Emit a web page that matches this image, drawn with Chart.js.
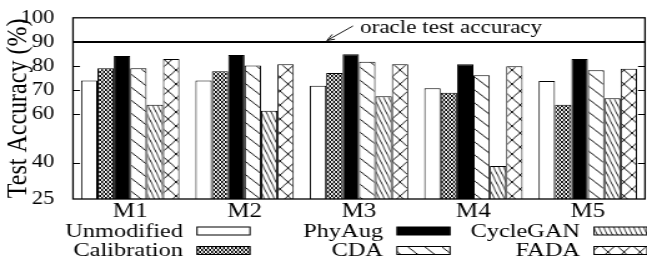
<!DOCTYPE html>
<html>
<head>
<meta charset="utf-8">
<script src="https://cdn.jsdelivr.net/npm/chart.js@4.4.0/dist/chart.umd.min.js"></script>
<style>
  html, body { margin: 0; padding: 0; background: #fff; }
  #chart { display: block; }
</style>
</head>
<body>
<canvas id="chart" width="518" height="262" style="width:647px;height:262px"></canvas>
<script>
const models = ["M1", "M2", "M3", "M4", "M5"];
const unmodified = [74, 74, 71.9, 70.8, 73.8];
const calibration = [79.1, 77.9, 77.2, 69, 64];
const phyAug = [84.2, 84.6, 84.9, 80.8, 82.9];
const cda = [79.1, 80.3, 81.8, 76.2, 78.3];
const cycleGan = [64, 61.5, 67.5, 38.7, 66.7];
const fada = [82.9, 80.8, 80.8, 79.9, 78.9];
const yTicks = [25, 40, 60, 70, 80, 90, 100];
const oracleAccuracy = 90;
const oracleLabel = "oracle test accuracy";

// the original figure is wider than its fonts; draw narrow and stretch
const STRETCH = 647 / 518;
const FONT = "'Liberation Serif', 'Times New Roman', serif";

const canvas = document.getElementById("chart");
const ctx = canvas.getContext("2d");

// Build a hatch pattern drawn in screen pixels (undoes the stretch).
const makePattern = (w, h, draw) => {
  const tile = document.createElement("canvas");
  tile.width = w;
  tile.height = h;
  const c = tile.getContext("2d");
  c.fillStyle = "#fff";
  c.fillRect(0, 0, w, h);
  c.strokeStyle = "#000";
  c.lineWidth = 1;
  draw(c, w, h);
  const pattern = ctx.createPattern(tile, "repeat");
  pattern.setTransform(new DOMMatrix([1 / STRETCH, 0, 0, 1, 0, 0]));
  return pattern;
};

// "\" line (down-right) or "/" line, wrapped so the tile repeats cleanly.
const hatch = (c, w, h, down) => {
  for (let k = -1; k <= 1; k++) {
    c.beginPath();
    if (down) {
      c.moveTo(k * w, 0);
      c.lineTo(k * w + w, h);
    } else {
      c.moveTo(k * w + w, 0);
      c.lineTo(k * w, h);
    }
    c.stroke();
  }
};

const fills = {
  unmodified: "#fff",
  calibration: makePattern(4, 4, (c, w, h) => { hatch(c, w, h, true); hatch(c, w, h, false); }),
  phyAug: "#000",
  cda: makePattern(17, 13, (c, w, h) => hatch(c, w, h, true)),
  cycleGan: makePattern(5, 10, (c, w, h) => hatch(c, w, h, true)),
  fada: makePattern(16, 14, (c, w, h) => { hatch(c, w, h, true); hatch(c, w, h, false); }),
};

const barSet = (label, data, fill) => ({
  label,
  data,
  backgroundColor: fill,
  borderColor: "#000",
  borderWidth: 1,
  categoryPercentage: 0.86,
  barPercentage: 1,
});

// Legend: 3 columns x 2 rows, text right-aligned in front of the sample box.
const legendCols = [183, 383, 580];
const legendRows = [{ box: 227, base: 236.5 }, { box: 246.5, base: 256 }];

const figurePlugin = {
  id: "figure",
  afterDatasetsDraw(chart) {
    const { ctx: g, chartArea: a, scales } = chart;
    const yScale = scales.y;
    g.save();
    g.strokeStyle = "#000";
    g.fillStyle = "#000";

    // inward tick marks on both sides
    g.lineWidth = 1;
    const tl = 7 / STRETCH;
    yTicks.slice(1, -1).forEach((v) => {
      const y = Math.round(yScale.getPixelForValue(v)) + 0.5;
      g.beginPath();
      g.moveTo(a.left, y);
      g.lineTo(a.left + tl, y);
      g.moveTo(a.right, y);
      g.lineTo(a.right - tl, y);
      g.stroke();
    });

    // oracle line
    const oy = yScale.getPixelForValue(oracleAccuracy);
    g.lineWidth = 2;
    g.beginPath();
    g.moveTo(a.left, oy);
    g.lineTo(a.right, oy);
    g.stroke();

    // frame
    g.lineWidth = 1.3;
    g.strokeRect(a.left, a.top, a.right - a.left, a.bottom - a.top);

    // oracle label and arrow
    g.font = `18.5px ${FONT}`;
    g.textAlign = "left";
    g.textBaseline = "alphabetic";
    g.fillText(oracleLabel, 360 / STRETCH, oy - 8.5);
    g.save();
    g.scale(1 / STRETCH, 1);
    const tip = { x: 327, y: oy - 1.5 };
    const tail = { x: 353, y: oy - 16 };
    const ang = Math.atan2(tail.y - tip.y, tail.x - tip.x);
    g.lineWidth = 1;
    g.beginPath();
    g.moveTo(tail.x, tail.y);
    g.lineTo(tip.x, tip.y);
    [0.35, -0.35].forEach((d) => {
      g.moveTo(tip.x, tip.y);
      g.lineTo(tip.x + 8 * Math.cos(ang + d), tip.y + 8 * Math.sin(ang + d));
    });
    g.stroke();
    g.restore();

    // legend
    g.font = `19.5px ${FONT}`;
    g.textAlign = "right";
    chart.data.datasets.forEach((ds, i) => {
      const col = legendCols[Math.floor(i / 2)];
      const row = legendRows[i % 2];
      g.fillStyle = "#000";
      g.fillText(ds.label, col / STRETCH, row.base);
      const bx = (col + 14) / STRETCH;
      const bw = 53 / STRETCH;
      g.fillStyle = ds.backgroundColor;
      g.fillRect(bx, row.box, bw, 8);
      g.lineWidth = 1;
      g.strokeRect(bx, row.box, bw, 8);
    });
    g.restore();
  },
};

new Chart(ctx, {
  type: "bar",
  data: {
    labels: models,
    datasets: [
      barSet("Unmodified", unmodified, fills.unmodified),
      barSet("Calibration", calibration, fills.calibration),
      barSet("PhyAug", phyAug, fills.phyAug),
      barSet("CDA", cda, fills.cda),
      barSet("CycleGAN", cycleGan, fills.cycleGan),
      barSet("FADA", fada, fills.fada),
    ],
  },
  options: {
    responsive: false,
    animation: false,
    devicePixelRatio: 1,
    events: [],
    layout: { padding: { left: 0, top: 15, right: 1.6, bottom: 41 } },
    plugins: { legend: { display: false }, tooltip: { enabled: false } },
    scales: {
      x: {
        grid: { display: false },
        border: { display: false },
        ticks: { color: "#000", font: { family: FONT, size: 20 }, padding: -7, maxRotation: 0 },
        afterFit: (scale) => { scale.height = 22; },
      },
      y: {
        min: 25,
        max: 100,
        afterBuildTicks: (scale) => { scale.ticks = yTicks.map((value) => ({ value })); },
        grid: { display: false },
        border: { display: false },
        ticks: { color: "#000", font: { family: FONT, size: 18 }, padding: 7 },
        title: {
          display: true,
          text: "Test Accuracy (%)",
          color: "#000",
          font: { family: FONT, size: 24 },
          padding: { top: 0, bottom: 0 },
        },
        afterFit: (scale) => { scale.width = 73 / STRETCH; },
      },
    },
  },
  plugins: [figurePlugin],
});
</script>
</body>
</html>
